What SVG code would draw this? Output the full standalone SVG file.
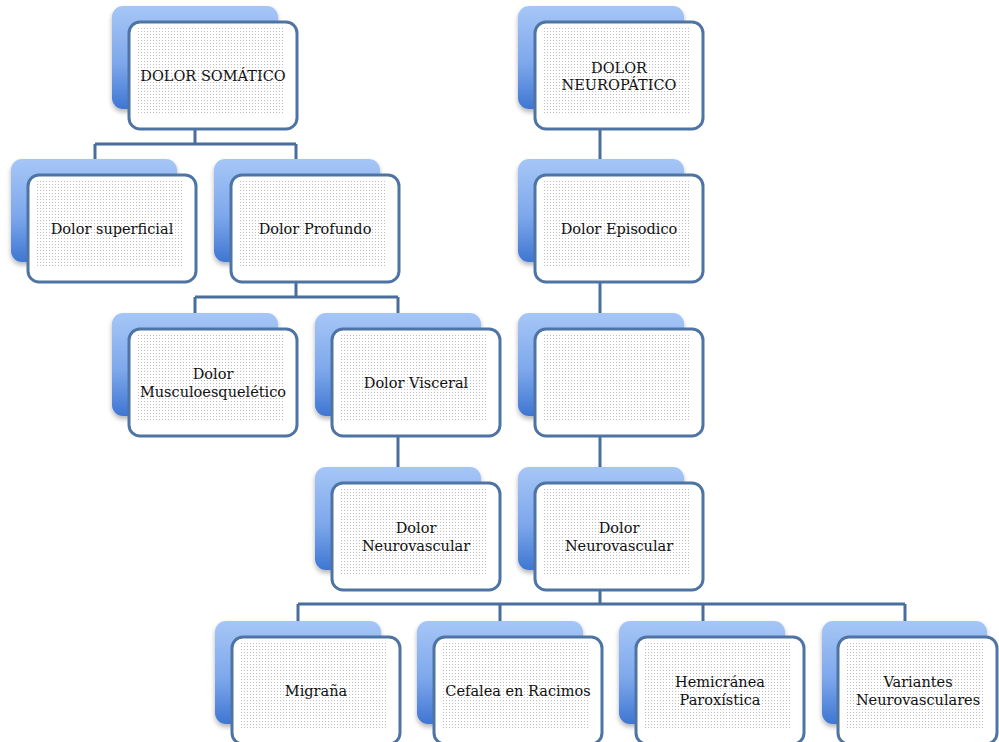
<svg xmlns="http://www.w3.org/2000/svg" width="999" height="742" viewBox="0 0 999 742">
  <defs>
    <linearGradient id="backFill" x1="0" y1="0" x2="0" y2="1">
      <stop offset="0" stop-color="#a6c6f6"/>
      <stop offset="0.55" stop-color="#7ea8ec"/>
      <stop offset="1" stop-color="#3f76d2"/>
    </linearGradient>
    <filter id="soft" x="-10%" y="-10%" width="125%" height="130%">
      <feGaussianBlur in="SourceAlpha" stdDeviation="2.5"/>
      <feOffset dx="0" dy="3" result="b"/>
      <feComponentTransfer><feFuncA type="linear" slope="0.3"/></feComponentTransfer>
      <feMerge><feMergeNode/><feMergeNode in="SourceGraphic"/></feMerge>
    </filter>
    <pattern id="dots" width="3" height="3" patternUnits="userSpaceOnUse">
      <rect x="0" y="0" width="1" height="1" fill="#707070"/>
    </pattern>
    <!-- one card: shaded back plate plus white front panel -->
    <g id="card">
      <rect class="back" x="-17" y="-16" width="166" height="103" rx="11" fill="url(#backFill)" filter="url(#soft)"/>
      <rect class="front" x="0" y="0" width="168" height="107" rx="11"/>
      <rect x="7" y="6" width="148" height="86" fill="url(#dots)" opacity="0.45"/>
    </g>
  </defs>
  <style>
    .front { fill: #ffffff; stroke: #4e74a4; stroke-width: 3; }
    .conn { fill: none; stroke: #4a6e9c; stroke-width: 3; }
    text { font-family: "DejaVu Serif", "Liberation Serif", serif; font-size: 14.5px; fill: #111111; text-anchor: middle; }
  </style>
  <rect width="999" height="742" fill="#ffffff"/>

  <g id="connectors">
    <path class="conn" d="M195 129 V144 M95 144 H296 M95 144 V161 M296 144 V161"/>
    <path class="conn" d="M600 129 V161"/>
    <path class="conn" d="M296 282 V297 M195 297 H398 M195 297 V314 M398 297 V314"/>
    <path class="conn" d="M600 282 V314"/>
    <path class="conn" d="M398 436 V468"/>
    <path class="conn" d="M600 436 V468"/>
    <path class="conn" d="M600 590 V604 M298 604 H905 M298 604 V621 M500 604 V621 M703 604 V621 M905 604 V621"/>
  </g>

  <g id="dolor-somatico" transform="translate(129 22)">
    <use href="#card"/>
    <text x="84" y="59">DOLOR SOMÁTICO</text>
  </g>
  <g id="dolor-neuropatico" transform="translate(535 22)">
    <use href="#card"/>
    <text x="84" y="51">DOLOR</text>
    <text x="84" y="68">NEUROPÁTICO</text>
  </g>
  <g id="dolor-superficial" transform="translate(28 175)">
    <use href="#card"/>
    <text x="84" y="59">Dolor superficial</text>
  </g>
  <g id="dolor-profundo" transform="translate(231 175)">
    <use href="#card"/>
    <text x="84" y="59">Dolor Profundo</text>
  </g>
  <g id="dolor-episodico" transform="translate(535 175)">
    <use href="#card"/>
    <text x="84" y="59">Dolor Episodico</text>
  </g>
  <g id="dolor-musculoesqueletico" transform="translate(129 329)">
    <use href="#card"/>
    <text x="84" y="50">Dolor</text>
    <text x="84" y="68">Musculoesquelético</text>
  </g>
  <g id="dolor-visceral" transform="translate(332 329)">
    <use href="#card"/>
    <text x="84" y="59">Dolor Visceral</text>
  </g>
  <g id="nodo-vacio" transform="translate(535 329)">
    <use href="#card"/>
  </g>
  <g id="dolor-neurovascular-1" transform="translate(332 483)">
    <use href="#card"/>
    <text x="84" y="50">Dolor</text>
    <text x="84" y="68">Neurovascular</text>
  </g>
  <g id="dolor-neurovascular-2" transform="translate(535 483)">
    <use href="#card"/>
    <text x="84" y="50">Dolor</text>
    <text x="84" y="68">Neurovascular</text>
  </g>
  <g id="migrana" transform="translate(232 637)">
    <use href="#card"/>
    <text x="84" y="59">Migraña</text>
  </g>
  <g id="cefalea-racimos" transform="translate(434 637)">
    <use href="#card"/>
    <text x="84" y="59">Cefalea en Racimos</text>
  </g>
  <g id="hemicranea-paroxistica" transform="translate(636 637)">
    <use href="#card"/>
    <text x="84" y="50">Hemicránea</text>
    <text x="84" y="68">Paroxística</text>
  </g>
  <g id="variantes-neurovasculares" transform="translate(838 637)">
    <rect x="-16" y="-16" width="165" height="103" rx="11" fill="url(#backFill)" filter="url(#soft)"/>
    <rect class="front" x="0" y="0" width="159" height="107" rx="11"/>
    <rect x="7" y="6" width="140" height="86" fill="url(#dots)" opacity="0.45"/>
    <text x="80" y="50">Variantes</text>
    <text x="80" y="68">Neurovasculares</text>
  </g>
</svg>
